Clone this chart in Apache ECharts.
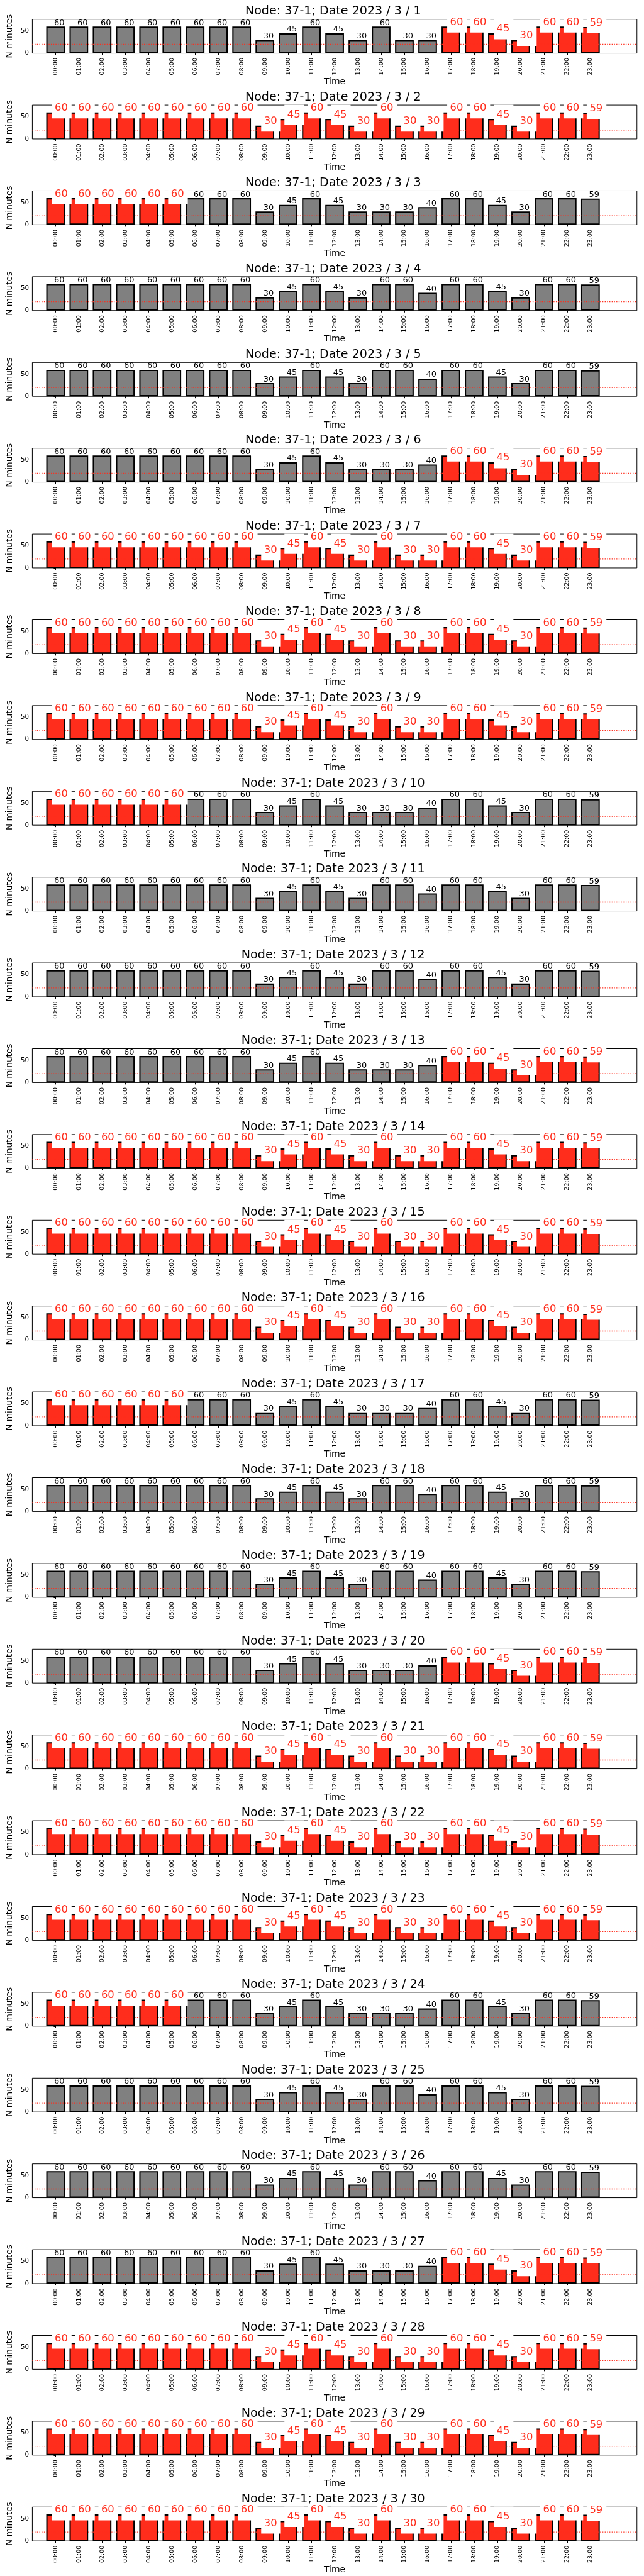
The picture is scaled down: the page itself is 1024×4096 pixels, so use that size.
<!DOCTYPE html>
<html>
<head>
<meta charset="utf-8">
<script src="https://cdn.jsdelivr.net/npm/echarts@6/dist/echarts.min.js"></script>
<style>
html,body{margin:0;padding:0;background:#fff;}
#chart{width:1024px;height:4096px;}
</style>
</head>
<body>
<div id="chart"></div>
<script>
// ---------------- data ----------------
const hours = ['00:00','01:00','02:00','03:00','04:00','05:00','06:00','07:00','08:00','09:00','10:00','11:00',
               '12:00','13:00','14:00','15:00','16:00','17:00','18:00','19:00','20:00','21:00','22:00','23:00'];
const profileA = [60,60,60,60,60,60,60,60,60,30,45,60,45,30,60,60,40,60,60,45,30,60,60,59];
const profileB = [60,60,60,60,60,60,60,60,60,30,45,60,45,30,30,30,40,60,60,45,30,60,60,59];
const profileC = [60,60,60,60,60,60,60,60,60,30,45,60,45,30,60,30,30,60,60,45,30,60,60,59];
const dayNumbers = [1,2,3,4,5,6,7,8,9,10,11,12,13,14,15,16,17,18,19,20,21,22,23,24,25,26,27,28,29,30];
const dayProfile = ['C','C','B','A','A','B','C','C','C','B','A','A','B','C','C','C','B','A','A','B','C','C','C','B','A','A','B','C','C','C'];
const dayFlagged = ['evening','all','morning','none','none','evening','all','all','all','morning','none','none','evening',
                    'all','all','all','morning','none','none','evening','all','all','all','morning','none','none','evening',
                    'all','all','all'];
const flaggedHours = {
  all: [0,1,2,3,4,5,6,7,8,9,10,11,12,13,14,15,16,17,18,19,20,21,22,23],
  morning: [0,1,2,3,4,5],
  evening: [17,18,19,20,21,22,23],
  none: []
};
const thresholdValue = 20;
const yTickValues = [0, 50];
const nodeName = '37-1';

// ---------------- layout (reference px, scaled) ----------------
const S = 0.682;
const BLOCK = 200;
const AX_L = 68.5, AX_R = 1485, AX_T = 45, AX_B = 124;
const X_MIN = -1, X_MAX = 25, Y_MAX = 76.5;
const FONT = 'DejaVu Sans';
const RED = '#ff2d1c';
const GREY = '#808080';
const gridW = (AX_R - AX_L) * S;
const unitPx = gridW / (X_MAX - X_MIN);
const barW = 0.8 * unitPx;

const profiles = {A: profileA, B: profileB, C: profileC};
const hourIdx = hours.map((h, i) => i);

const option = {
  animation: false,
  backgroundColor: '#fff',
  title: [], grid: [], xAxis: [], yAxis: [], series: []
};

dayNumbers.forEach((d, k) => {
  const vals = profiles[dayProfile[k]];
  const flagged = flaggedHours[dayFlagged[k]];
  const y0 = k * BLOCK;

  option.title.push({
    text: 'Node: ' + nodeName + '; Date 2023 / 3 / ' + d,
    left: ((AX_L + AX_R) / 2) * S,
    top: y0 * S + 8.85,
    textAlign: 'center',
    padding: 0,
    textStyle: {fontFamily: FONT, fontWeight: 'normal', fontSize: 28 * S, lineHeight: 28 * S, color: '#000'}
  });

  option.grid.push({
    left: AX_L * S, width: gridW,
    top: (y0 + AX_T) * S, height: (AX_B - AX_T) * S,
    show: true, borderColor: '#000', borderWidth: 1, backgroundColor: 'transparent',
    containLabel: false
  });

  option.xAxis.push({
    gridIndex: k, type: 'value', min: X_MIN, max: X_MAX,
    name: 'Time', nameLocation: 'middle', nameGap: 36.6,
    nameTextStyle: {fontFamily: FONT, fontSize: 20.5 * S, lineHeight: 20.5 * S, color: '#000'},
    axisLine: {show: false},
    splitLine: {show: false},
    axisTick: {show: true, customValues: hourIdx, length: 3, lineStyle: {color: '#000', width: 1}},
    axisLabel: {show: true, customValues: hourIdx, rotate: 90, margin: 7.5,
      formatter: v => hours[Math.round(v)] || '',
      fontFamily: FONT, fontSize: 9.5, color: '#000'}
  });

  option.yAxis.push({
    gridIndex: k, type: 'value', min: 0, max: Y_MAX,
    name: 'N minutes', nameLocation: 'middle', nameGap: 24, nameRotate: 90,
    nameTextStyle: {fontFamily: FONT, fontSize: 20 * S, lineHeight: 20 * S, color: '#000'},
    axisLine: {show: false},
    splitLine: {show: false},
    axisTick: {show: true, customValues: yTickValues, length: 3, lineStyle: {color: '#000', width: 1}},
    axisLabel: {show: true, customValues: yTickValues, margin: 5.5,
      fontFamily: FONT, fontSize: 15 * S, color: '#000'}
  });

  const barData = vals.map((v, i) => ({
    value: [i, v],
    itemStyle: {color: flagged.indexOf(i) >= 0 ? RED : GREY}
  }));

  const labelData = vals.map((v, i) => {
    const isRed = flagged.indexOf(i) >= 0;
    return {
      value: [i, v],
      label: isRed ? {
        show: true, position: [barW / 2 - 5.9, 9.5], align: 'left', verticalAlign: 'bottom',
        color: RED, fontFamily: FONT, fontSize: 24 * S, lineHeight: 24 * S,
        backgroundColor: '#fff', padding: [8, 6, 8, 4.5],
        formatter: String(v)
      } : {
        show: true, position: [barW / 2 - 2.4, 0.6], align: 'left', verticalAlign: 'bottom',
        color: '#000', fontFamily: FONT, fontSize: 19 * S, lineHeight: 19 * S,
        formatter: String(v)
      }
    };
  });

  option.series.push({
    type: 'bar', xAxisIndex: k, yAxisIndex: k, z: 2, silent: true,
    barWidth: barW, barGap: '-100%',
    itemStyle: {borderColor: '#000', borderWidth: 3 * S},
    data: barData
  });
  option.series.push({
    type: 'line', xAxisIndex: k, yAxisIndex: k, z: 3, silent: true,
    symbol: 'none',
    lineStyle: {color: RED, width: 2 * S, type: [1.4, 2.3]},
    data: [[X_MIN, thresholdValue], [X_MAX, thresholdValue]]
  });
  option.series.push({
    type: 'bar', xAxisIndex: k, yAxisIndex: k, z: 4, silent: true,
    barWidth: barW, barGap: '-100%',
    itemStyle: {color: 'rgba(0,0,0,0)', borderWidth: 0},
    data: labelData
  });
});

const chart = echarts.init(document.getElementById('chart'), null, {renderer: 'canvas'});
chart.setOption(option);
</script>
</body>
</html>
